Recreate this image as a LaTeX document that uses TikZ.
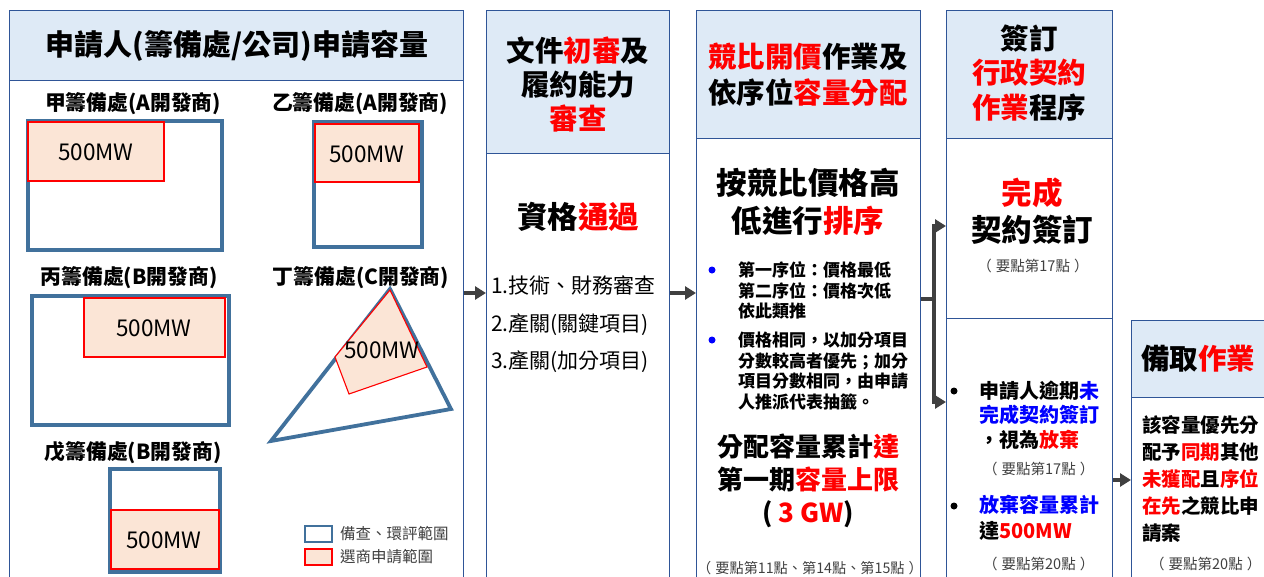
\documentclass[tikz,border=0pt]{standalone}
\usepackage{fontspec}
\setmainfont{Noto Sans CJK TC}[Script=CJK,Language=Chinese Traditional]
\usetikzlibrary{arrows.meta}
\definecolor{colline}{RGB}{47,85,151}
\definecolor{hdrfill}{RGB}{222,234,246}
\definecolor{siteblue}{RGB}{65,113,156}
\definecolor{pickfill}{RGB}{251,229,214}
\definecolor{arrowgray}{RGB}{64,64,64}
\definecolor{hlred}{RGB}{255,0,0}
\definecolor{hlblue}{RGB}{0,0,255}
\definecolor{refgray}{RGB}{64,64,64}
\newcommand{\rtx}[1]{\textcolor{hlred}{#1}}
\newcommand{\btx}[1]{\textcolor{hlblue}{#1}}
\newcommand{\fsz}[2]{\fontsize{#1}{#2}\selectfont}
\newcommand{\reftxt}[1]{（\hspace{4pt}#1\hspace{4pt}）}
\tikzset{
  colbox/.style={draw=colline, line width=1.3pt, anchor=north west, inner sep=0pt, fill=white},
  hdrbox/.style={colbox, fill=hdrfill},
  site/.style={draw=siteblue, line width=3.8pt, fill=white},
  pick/.style={draw=hlred, line width=1.1pt, fill=pickfill},
  flowline/.style={draw=arrowgray, line width=4pt},
  flow/.style={flowline, -{Triangle[length=11pt,width=13pt]}},
  hdr/.style={font={\bfseries\fsz{28.5}{35}}, align=center, inner sep=0pt},
  big/.style={font={\bfseries\fsz{30.5}{38}}, align=center, inner sep=0pt},
  sitelbl/.style={font={\bfseries\fsz{20.8}{24}}, inner sep=0pt},
  mw/.style={font=\fsz{22.5}{24}, inner sep=0pt},
  legtxt/.style={font=\fsz{15.5}{18}, text=refgray, inner sep=0pt, anchor=west},
  note/.style={font={\bfseries\fsz{17}{20.7}}, align=left, inner sep=0pt, anchor=west},
  pt/.style={font={\bfseries\fsz{20}{24.5}}, align=left, inner sep=0pt, anchor=west},
  ref/.style={font=\fsz{14.5}{16}, text=refgray, inner sep=0pt},
  dot/.style={circle, fill=#1, inner sep=0pt, minimum size=7pt}
}
\begin{document}
\begin{tikzpicture}[x=1pt,y=-1pt]
\useasboundingbox (0,0) rectangle (1264,576);
\clip (0,0) rectangle (1264,576);

% columns
\node[hdrbox, minimum width=454, minimum height=70] (h1) at (9,10) {};
\node[colbox, minimum width=454, minimum height=520] (c1) at (9,80) {};
\node[hdrbox, minimum width=183, minimum height=143] (h2) at (486,10) {};
\node[colbox, minimum width=183, minimum height=450] (c2) at (486,153) {};
\node[hdrbox, minimum width=224, minimum height=128] (h3) at (696,10) {};
\node[colbox, minimum width=224, minimum height=460] (c3) at (696,138) {};
\node[hdrbox, minimum width=166, minimum height=128] (h4) at (946,10) {};
\node[colbox, minimum width=166, minimum height=180] (c4a) at (946,138) {};
\node[colbox, minimum width=166, minimum height=280] (c4b) at (946,318) {};
\node[hdrbox, minimum width=160, minimum height=77] (h5) at (1131,320) {};
\node[colbox, minimum width=160, minimum height=200] (c5) at (1131,397) {};

% applicants
\node[hdr, font={\bfseries\fsz{29}{35}}] (t1) at (237,46) {申請人(籌備處/公司)申請容量};
\node[sitelbl] (la) at (133,104) {甲籌備處(A開發商)};
\node[sitelbl] (lb) at (360,104) {乙籌備處(A開發商)};
\node[sitelbl] (lc) at (129,278) {丙籌備處(B開發商)};
\node[sitelbl] (ld) at (361,278) {丁籌備處(C開發商)};
\node[sitelbl] (le) at (133,453) {戊籌備處(B開發商)};

\draw[site] (28,121) rectangle (222,250);
\draw[pick] (28,122) rectangle (164,181);
\node[mw] (ma) at (96,152) {500MW};
\draw[site] (314,122) rectangle (422,247);
\draw[pick] (315,124) rectangle (419,182);
\node[mw] (mb) at (367,154) {500MW};
\draw[site] (32,296) rectangle (229,425);
\draw[pick] (84,298) rectangle (225,357);
\node[mw] (mc) at (154,328) {500MW};
\draw[site] (390,289) -- (451,409) -- (271,441) -- cycle;
\draw[pick] (390,290) -- (427,367) -- (349,394) -- (335,357) -- cycle;
\node[mw] (md) at (382,350) {500MW};
\draw[site] (110,469) rectangle (220,572);
\draw[pick] (111,510) rectangle (219,569);
\node[mw] (me) at (164,540) {500MW};

\draw[site, line width=2pt] (305,526) rectangle (332,542);
\draw[pick, line width=1.5pt] (305,549) rectangle (332,565);
\node[legtxt] (lg1) at (340,534) {備查、環評範圍};
\node[legtxt] (lg2) at (340,557) {選商申請範圍};

% review
\node[hdr, font={\bfseries\fsz{28.5}{34}}] (t2) at (578,84) {文件\rtx{初審}及\\履約能力\\\rtx{審查}};
\node[big] (q2) at (578,217) {資格\rtx{通過}};
\node[font=\fsz{21}{37.5}, align=left, inner sep=0pt, anchor=west] (l2) at (491,324.5) {1.技術、財務審查\\2.產關(關鍵項目)\\3.產關(加分項目)};

% bidding
\node[hdr, font={\bfseries\fsz{28.5}{36}}] (t3) at (808,75) {\rtx{競比開價}作業及\\依序位\rtx{容量分配}};
\node[big] (s3) at (808,202) {按競比價格高\\低進行\rtx{排序}};
\node[dot=hlblue] (d3a) at (712,270) {};
\node[dot=hlblue] (d3b) at (712,340) {};
\node[note] (n3a) at (738,290.5) {第一序位：價格最低\\第二序位：價格次低\\依此類推};
\node[note] (n3b) at (738,371) {價格相同，以加分項目\\分數較高者優先；加分\\項目分數相同，由申請\\人推派代表抽籤。};
\node[big, font={\bfseries\fsz{26}{33}}] (g3) at (808,481) {分配容量累計\rtx{達}\\第一期\rtx{容量上限}\\( \rtx{3 GW})};
\node[ref, font=\fsz{14.2}{16}] (r3) at (810,568) {\reftxt{要點第11點、第14點、第15點}};

% contract
\node[hdr, font={\bfseries\fsz{28.5}{34.5}}] (t4) at (1029,73) {簽訂\\\rtx{行政契約}\\\rtx{作業}程序};
\node[big, font={\bfseries\fsz{30.5}{37}}] (s4) at (1032,211) {\rtx{完成}\\契約簽訂};
\node[ref] (r4a) at (1033,266) {\reftxt{要點第17點}};
\node[dot=black] (d4a) at (954,391) {};
\node[dot=black] (d4b) at (954,506) {};
\node[pt] (p4a) at (979,415) {申請人逾期\btx{未}\\\btx{完成契約簽訂}\\，視為\rtx{放棄}};
\node[ref, anchor=west] (r4b) at (983,469) {\reftxt{要點第17點}};
\node[pt, font={\bfseries\fsz{20}{25.5}}] (p4b) at (979,518) {\btx{放棄容量累計}\\達\rtx{500MW}};
\node[ref, anchor=west] (r4c) at (983,564) {\reftxt{要點第20點}};

% backup
\node[hdr, anchor=west] (t5) at (1141,359) {備取\rtx{作業}};
\node[pt, font={\bfseries\fsz{19.5}{27}}] (p5) at (1142,479.5) {該容量優先分\\配予\rtx{同期}其他\\\rtx{未獲配}且\rtx{序位}\\\rtx{在先}之競比申\\請案};
\node[ref, anchor=west] (r5) at (1150,564) {\reftxt{要點第20點}};

% flow
\coordinate (ya) at (0,293);
\coordinate (br) at (934,299);
\coordinate (yb) at (0,226);
\coordinate (yc) at (0,402);
\coordinate (yd) at (0,480);
\draw[flow] (c1.east |- ya) -- (c2.west |- ya);
\draw[flow] (c2.east |- ya) -- (c3.west |- ya);
\draw[flowline] (c3.east |- br) -- (br);
\draw[flow] (br) |- (c4a.west |- yb);
\draw[flow] (br) |- (c4b.west |- yc);
\draw[flow] (c4b.east |- yd) -- (c5.west |- yd);
\end{tikzpicture}
\end{document}
